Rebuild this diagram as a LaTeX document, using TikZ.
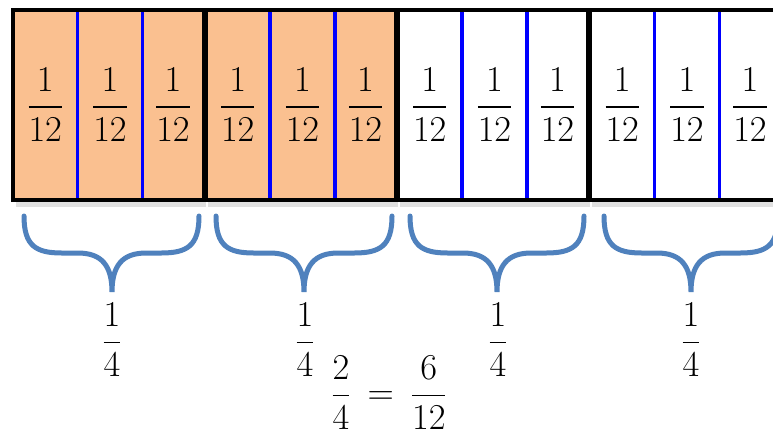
\documentclass[tikz,border=0pt]{standalone}
\usepackage{amsmath}
\usepackage{tikz}
\usetikzlibrary{positioning}

\definecolor{peach}{RGB}{250,192,144}
\definecolor{bracecol}{RGB}{79,129,189}

% curly brace under one quarter: left end, tip, right end (px)
\newcommand{\quarterbrace}[3]{%
  \draw[brace] (#1,216) .. controls (#1,246) and (#1+12,253) .. (#1+38,253)
    -- (#2-34,253) .. controls (#2-10,253) and (#2,266) .. (#2,292)
    .. controls (#2,266) and (#2+10,253) .. (#2+34,253)
    -- (#3-38,253) .. controls (#3-12,253) and (#3,246) .. (#3,216);}

\begin{document}
\begin{tikzpicture}[
    x=0.02cm, y=-0.02cm,
    cell/.style={minimum width=1.32cm, minimum height=3.81cm, inner sep=0pt, font=\fontsize{20.8}{25}\selectfont},
    shaded/.style={cell, fill=peach},
    frame/.style={draw=black, line width=0.08cm},
    divider/.style={draw=blue, line width=0.07cm},
    brace/.style={draw=bracecol, line width=0.1cm, line cap=round},
    shadow/.style={fill=black!12},
    frac/.style={inner sep=0pt, font=\fontsize{20.8}{25}\selectfont}
]
\path[use as bounding box, fill=white] (0,0) rectangle (773,437);
\clip (0,0) rectangle (773,437);
% Twelfths
\node[shaded] (c1)  at (45.25,104.75) {$\dfrac{1}{12}$};
\node[shaded] (c2)  at (110,104.75)   {$\dfrac{1}{12}$};
\node[shaded] (c3)  at (173,104.75)   {$\dfrac{1}{12}$};
\node[shaded] (c4)  at (237.75,104.75){$\dfrac{1}{12}$};
\node[shaded] (c5)  at (302.5,104.75) {$\dfrac{1}{12}$};
\node[shaded] (c6)  at (365.5,104.75) {$\dfrac{1}{12}$};
\node[cell]   (c7)  at (429.75,104.75){$\dfrac{1}{12}$};
\node[cell]   (c8)  at (494.5,104.75) {$\dfrac{1}{12}$};
\node[cell]   (c9)  at (557.5,104.75) {$\dfrac{1}{12}$};
\node[cell]   (c10) at (622.25,104.75){$\dfrac{1}{12}$};
\node[cell]   (c11) at (687,104.75)   {$\dfrac{1}{12}$};
\node[cell]   (c12) at (750,104.75)   {$\dfrac{1}{12}$};
% Dividers
\draw[divider] (77.5,9.5) -- (77.5,200);
\draw[divider] (142.5,9.5) -- (142.5,200);
\draw[divider] (270,9.5) -- (270,200);
\draw[divider] (335,9.5) -- (335,200);
\draw[divider] (462,9.5) -- (462,200);
\draw[divider] (527,9.5) -- (527,200);
\draw[divider] (654.5,9.5) -- (654.5,200);
\draw[divider] (719.5,9.5) -- (719.5,200);
% Quarters
\fill[shadow] (16,202) rectangle (206,207);
\fill[shadow] (208,202) rectangle (398,207);
\fill[shadow] (400,202) rectangle (590,207);
\fill[shadow] (592,202) rectangle (783,207);
\draw[frame] (13,9.5) rectangle (203.5,200);
\draw[frame] (205.5,9.5) rectangle (396,200);
\draw[frame] (397.5,9.5) rectangle (588,200);
\draw[frame] (590,9.5) rectangle (780.5,200);
% Braces
\quarterbrace{24}{112}{199}
\quarterbrace{216}{304}{392}
\quarterbrace{410}{497}{584}
\quarterbrace{604}{691}{778}
\node[frac] (q1) at (112,340) {$\dfrac{1}{4}$};
\node[frac] (q2) at (305,340) {$\dfrac{1}{4}$};
\node[frac] (q3) at (498,340) {$\dfrac{1}{4}$};
\node[frac] (q4) at (691,340) {$\dfrac{1}{4}$};
% Result
\node[frac] (eq) at (389,393) {$\dfrac{2}{4}\mkern3mu=\mkern3mu\dfrac{6}{12}$};
\end{tikzpicture}
\end{document}
